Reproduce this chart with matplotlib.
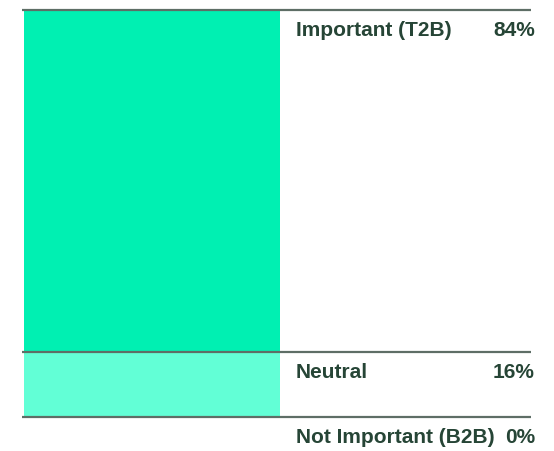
import matplotlib
matplotlib.use("Agg")
import matplotlib.pyplot as plt

# Share of responses, stacked from the top of the bar downward
categories = ["Important (T2B)", "Neutral", "Not Important (B2B)"]
values = [84, 16, 0]
value_labels = ["84%", "16%", "0%"]
colors = ["#00F0B2", "#62FFD6", "#9CFFE4"]

plt.rcParams["font.family"] = ["Liberation Sans", "DejaVu Sans"]

W, H = 554, 451
fig = plt.figure(figsize=(W / 100, H / 100), dpi=100)
# axes spans the bar vertically; full width so x is in figure pixels
ax = fig.add_axes([0, (H - 417) / H, 1, 407 / H])
ax.set_xlim(0, W)
ax.set_ylim(0, 100)
ax.axis("off")

text_color = "#264536"
line_color = "#5E6E66"

bar_left, bar_right = 24, 280
line_left, line_right = 22, 531
label_x, value_x = 296, 535

top = sum(values)
for cat, val, vlab, col in zip(categories, values, value_labels, colors):
    bottom = top - val
    if val > 0:
        ax.bar(bar_left, val, bottom=bottom, width=bar_right - bar_left,
               align="edge", color=col, linewidth=0, zorder=1)
    # separator line at the top edge of each segment
    ax.plot([line_left, line_right], [top, top], color=line_color,
            lw=1.6, solid_capstyle="butt", zorder=2, clip_on=False)
    ax.annotate(cat, xy=(label_x, top), xytext=(0, -15), textcoords="offset points",
                ha="left", va="center", fontsize=15, fontweight="bold",
                color=text_color, annotation_clip=False)
    ax.annotate(vlab, xy=(value_x, top), xytext=(0, -15), textcoords="offset points",
                ha="right", va="center", fontsize=15, fontweight="bold",
                color=text_color, annotation_clip=False)
    top = bottom

fig.savefig("out.png", dpi=100, facecolor="white")
